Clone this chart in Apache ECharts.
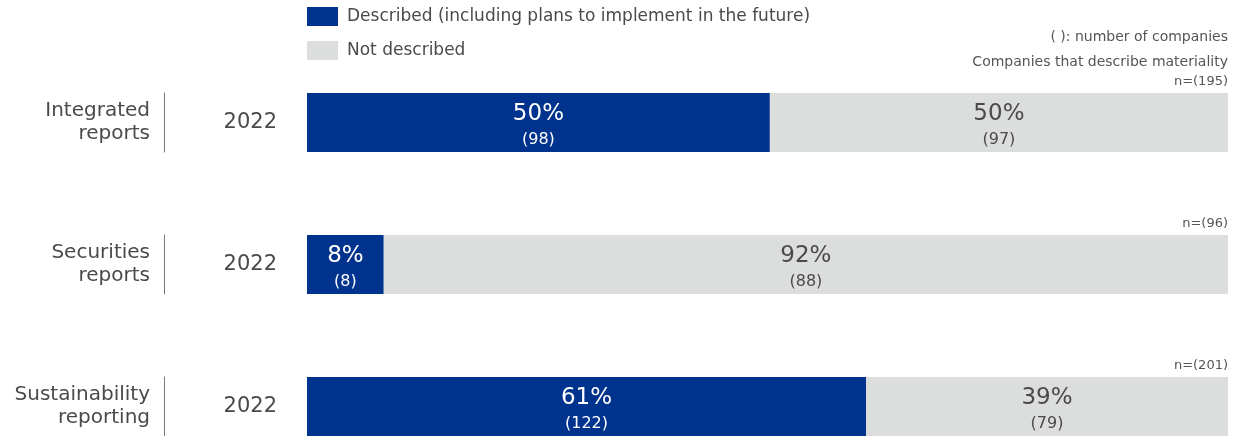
<!DOCTYPE html>
<html>
<head>
<meta charset="utf-8">
<script src="https://cdn.jsdelivr.net/npm/echarts@6/dist/echarts.min.js"></script>
<style>
  html, body { margin: 0; padding: 0; background: #fff; }
  #chart { width: 1247px; height: 436px; }
</style>
</head>
<body>
<div id="chart"></div>
<script>
// Report types and survey year
const rowNames = ['Integrated\nreports', 'Securities\nreports', 'Sustainability\nreporting'];
const years = ['2022', '2022', '2022'];
// Number of companies per answer, and respondents per report type
const describedCounts = [98, 8, 122];
const notDescribedCounts = [97, 88, 79];
const totals = [195, 96, 201];
const seriesNames = ['Described (including plans to implement in the future)', 'Not described'];
const noteLines = ['( ): number of companies', 'Companies that describe materiality'];

const FONT = '"DejaVu Sans", Verdana, sans-serif';
const TEXT = '#4a4a4a';
const BLUE = '#00338D';
const GREY = '#DCDDDD';
const ROW_TOP = 93, ROW_STEP = 142, BAR_H = 59, LEFT = 307, RIGHT = 19;

const grids = [], xAxes = [], yAxes = [], series = [], graphics = [];

rowNames.forEach((name, i) => {
  const top = ROW_TOP + i * ROW_STEP;
  grids.push({ left: LEFT, right: RIGHT, top: top, height: BAR_H, containLabel: false });
  xAxes.push({ gridIndex: i, type: 'value', min: 0, max: 100, show: false });
  // year label next to the bar
  yAxes.push({
    gridIndex: i, type: 'category', data: [years[i]],
    axisLine: { show: false }, axisTick: { show: false },
    axisLabel: { margin: 30, fontSize: 21, color: TEXT, fontFamily: FONT, padding: [5, 0, 0, 0] }
  });
  // report name with a vertical divider
  yAxes.push({
    gridIndex: i, type: 'category', data: [name], position: 'left', offset: 143,
    axisLine: { show: true, lineStyle: { color: '#777', width: 1 } },
    axisTick: { show: false },
    axisLabel: { margin: 14, fontSize: 20, lineHeight: 23, color: TEXT, fontFamily: FONT, align: 'right', padding: [8, 0, 0, 0] }
  });

  const counts = [describedCounts[i], notDescribedCounts[i]];
  counts.forEach((cnt, s) => {
    const share = cnt / totals[i] * 100;
    series.push({
      name: seriesNames[s], type: 'bar', stack: 'row' + i,
      xAxisIndex: i, yAxisIndex: i * 2, barWidth: BAR_H,
      itemStyle: { color: s === 0 ? BLUE : GREY },
      emphasis: { disabled: true },
      label: {
        show: true, position: 'inside', offset: [0, 3],
        formatter: () => '{p|' + Math.round(share) + '%}\n{c|(' + cnt + ')}',
        rich: {
          p: { fontSize: 23, lineHeight: 28, color: s === 0 ? '#fff' : TEXT, fontFamily: FONT },
          c: { fontSize: 16, lineHeight: 22, color: s === 0 ? '#fff' : TEXT, fontFamily: FONT }
        }
      },
      data: [share]
    });
  });

  graphics.push({
    type: 'text', right: RIGHT, top: top - 18,
    style: { text: 'n=(' + totals[i] + ')', fontSize: 13, fill: '#555', fontFamily: FONT }
  });
});

noteLines.forEach((t, k) => {
  graphics.push({
    type: 'text', right: RIGHT, top: 30 + k * 25,
    style: { text: t, fontSize: 14, fill: '#555', fontFamily: FONT }
  });
});

const chart = echarts.init(document.getElementById('chart'), null, { renderer: 'canvas' });
chart.setOption({
  animation: false,
  backgroundColor: '#fff',
  legend: {
    data: seriesNames, orient: 'vertical', left: LEFT, top: 7, padding: 0,
    icon: 'rect', itemWidth: 31, itemHeight: 19, itemGap: 15,
    selectedMode: false,
    textStyle: { fontSize: 17, color: TEXT, fontFamily: FONT, padding: [5, 0, 0, 4] }
  },
  grid: grids, xAxis: xAxes, yAxis: yAxes, series: series,
  graphic: graphics
});
</script>
</body>
</html>
